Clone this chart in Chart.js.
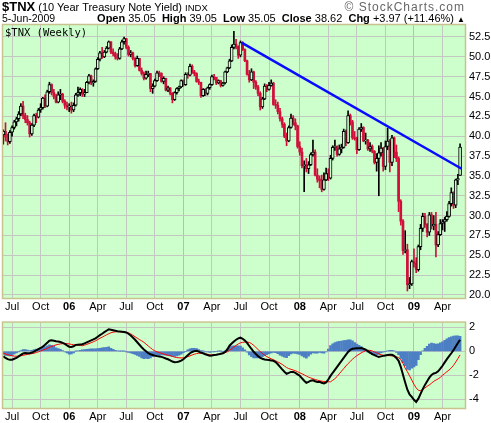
<!DOCTYPE html>
<html>
<head>
<meta charset="utf-8">
<script src="https://cdn.jsdelivr.net/npm/chart.js@4.4.0/dist/chart.umd.min.js"></script>
<style>
  body { margin: 0; background: #fff; width: 491px; height: 423px; overflow: hidden; position: relative;
         font-family: "Liberation Sans", Arial, sans-serif; }
  .hdr { position: absolute; white-space: nowrap; color: #000; z-index: 2; }
  #priceBox { position: absolute; left: 0; top: 0; width: 491px; height: 312px; }
  #macdBox { position: absolute; left: 0; top: 312px; width: 491px; height: 111px; }
</style>
</head>
<body>
<div class="hdr" style="left:2px;top:0;font-size:11px;line-height:13px"><b style="font-size:13px">$TNX</b> (10 Year Treasury Note Yield) <span style="font-size:9.5px">INDX</span></div>
<div class="hdr" style="right:26px;top:1px;font-size:12px;line-height:12px;color:#666;letter-spacing:1px">© StockCharts.com</div>
<div class="hdr" style="left:2px;top:13px;font-size:10.5px;line-height:11px">5-Jun-2009</div>
<div class="hdr" style="right:26px;top:13px;font-size:11px;line-height:11px"><b>Open</b> 35.05 &nbsp;<b>High</b> 39.05 &nbsp;<b>Low</b> 35.05 &nbsp;<b>Close</b> 38.62 &nbsp;<b>Chg</b> +3.97 (+11.46%) <span style="font-size:8px">▲</span></div>
<div class="hdr" style="left:5px;top:27px;font-family:'DejaVu Sans Mono',monospace;font-size:10.5px;line-height:11px">$TNX (Weekly)</div>

<div id="priceBox"><canvas id="priceChart" width="491" height="312"></canvas></div>
<div id="macdBox"><canvas id="macdChart" width="491" height="111"></canvas></div>

<script>
// weekly bars, Jun 10 2005 .. Jun 5 2009 (bar index 0..208), yield x10
const opens = [
  40.2,40.6,39.9,39.3,40.5,41.1,41.8,42.2,42.8,43.8,
  42.6,42.1,41.7,40.3,41.4,42.6,42.4,43.3,43.6,44.8,
  43.8,45.6,46.5,45.5,45.0,44.3,45.2,45.3,44.4,43.9,
  43.7,43.8,43.3,43.9,45.2,45.5,45.9,45.3,45.5,46.8,
  47.6,46.7,46.9,48.5,49.7,50.5,50.0,50.6,51.1,51.9,
  50.6,50.4,50.0,49.8,51.0,51.9,52.3,51.2,50.3,50.5,
  49.8,48.9,49.8,48.3,47.9,47.3,47.8,47.9,46.0,46.3,
  47.0,48.0,47.9,46.9,47.3,45.8,46.1,45.4,44.6,45.5,
  46.0,46.2,47.0,46.5,47.8,47.7,48.8,48.1,47.9,46.9,
  46.8,45.1,45.9,45.4,46.1,46.5,47.5,47.4,46.7,47.0,
  46.4,46.7,48.1,48.6,49.5,51.2,51.6,51.3,50.2,51.8,
  50.9,49.5,47.8,47.1,48.1,46.8,46.2,45.4,43.7,44.7,
  46.3,45.9,46.4,46.7,44.0,43.9,43.1,42.2,41.5,40.0,
  39.4,41.1,42.3,41.7,41.3,38.7,38.0,36.3,36.4,35.9,
  36.4,37.7,38.0,35.1,34.6,34.4,33.3,34.5,35.3,34.7,
  37.2,38.6,38.7,37.7,38.4,38.6,40.6,39.2,42.6,41.8,
  39.8,39.7,38.3,40.9,41.1,39.4,39.5,38.4,38.7,38.1,
  36.7,37.2,37.9,38.5,36.2,38.7,39.4,36.7,39.8,38.0,
  37.2,31.8,29.3,25.6,25.7,21.3,21.4,24.2,24.0,23.2,
  26.1,28.4,29.9,28.9,27.9,30.1,28.7,28.9,26.3,27.6,
  29.0,29.2,29.5,29.9,31.5,32.9,31.3,34.5,35.05
];
const highs = [
  40.8,41.7,40.3,40.7,41.3,42.0,42.4,43.1,44.1,44.4,
  42.9,42.6,41.9,41.6,42.8,42.9,43.5,44.1,44.9,45.2,
  45.8,46.8,46.6,45.9,45.3,45.6,45.9,45.4,44.6,44.3,
  44.1,44.3,44.2,45.4,46.2,46.1,46.0,45.9,46.9,47.8,
  47.7,47.1,48.6,49.9,50.7,51.2,50.8,51.3,52.0,51.9,
  51.0,50.6,50.4,51.2,52.1,52.5,52.3,51.4,50.8,50.6,
  49.9,50.1,49.8,48.6,48.1,48.2,48.2,47.9,46.6,47.2,
  48.2,48.2,48.0,47.5,47.3,46.3,46.1,45.5,45.6,46.1,
  46.3,47.1,47.1,48.0,48.0,49.1,49.0,48.3,48.0,47.2,
  46.8,46.0,46.0,46.2,46.6,47.7,47.8,47.4,47.1,47.0,
  46.8,48.2,48.7,49.7,51.5,53.2,52.2,51.4,52.0,51.9,
  51.0,49.6,48.3,48.5,48.2,47.0,46.4,45.6,44.9,46.6,
  46.5,46.8,47.1,46.8,44.6,44.3,43.5,42.4,41.7,40.4,
  41.3,42.8,42.6,42.2,41.4,39.3,38.5,36.9,37.2,36.8,
  37.9,39.5,38.3,35.9,35.0,35.1,35.4,36.0,35.9,37.6,
  38.8,39.5,38.8,38.9,39.0,40.9,40.8,43.2,42.8,42.0,
  40.6,39.9,41.1,41.6,41.2,40.4,39.6,39.2,38.9,38.2,
  37.8,38.8,39.2,38.6,39.4,41.0,39.6,40.1,39.9,38.9,
  37.4,32.0,29.5,28.1,26.4,22.2,24.4,25.8,24.7,26.3,
  28.9,30.3,30.3,29.0,30.4,30.4,30.0,30.4,28.0,29.5,
  29.5,29.8,30.5,31.8,33.5,33.0,34.6,35.2,39.05
];
const lows = [
  39.0,39.4,38.9,39.1,40.0,40.9,41.3,41.9,42.6,42.2,
  41.7,41.4,39.9,40.1,41.2,41.7,42.3,43.0,43.4,43.6,
  43.7,45.4,45.2,44.7,44.2,44.2,44.6,44.2,43.5,43.3,
  43.1,42.9,43.1,43.8,45.0,45.1,45.0,45.0,45.5,46.6,
  46.5,46.3,46.8,48.4,49.5,49.8,49.9,50.5,51.0,50.4,
  50.1,49.7,49.6,49.7,50.9,51.6,51.0,50.1,50.0,49.6,
  48.7,48.8,48.2,47.7,47.1,47.2,47.5,45.6,45.4,46.2,
  46.9,47.5,46.8,46.6,45.7,45.6,45.2,44.2,44.5,45.3,
  45.7,46.1,46.3,46.4,47.3,47.6,47.9,47.6,46.8,46.5,
  44.9,45.0,45.1,45.2,45.9,46.4,47.1,46.5,46.6,46.2,
  46.3,46.6,48.0,48.5,49.4,51.0,51.0,49.8,50.0,50.8,
  49.4,47.7,46.8,47.0,46.0,45.9,45.1,43.3,43.5,44.6,
  45.6,45.8,46.3,43.9,43.5,42.8,41.9,41.1,39.8,38.8,
  39.3,41.0,41.4,40.8,38.5,37.6,36.0,33.0,35.5,35.3,
  36.3,37.5,35.0,34.2,33.5,33.0,33.2,34.4,34.4,34.6,
  37.0,38.2,37.5,37.6,37.9,38.5,38.8,39.1,41.4,39.6,
  39.5,37.8,38.2,40.6,39.3,39.0,38.2,38.1,37.9,36.5,
  35.6,32.5,37.5,35.6,35.8,38.3,35.5,36.3,37.3,36.8,
  30.5,28.8,25.1,25.3,20.5,20.8,21.2,23.5,22.8,23.0,
  25.7,28.0,28.5,27.3,27.5,28.3,28.2,24.8,26.1,27.5,
  28.2,28.0,29.3,29.8,31.2,30.9,31.0,33.9,35.05
];
const closes = [
  40.6,39.9,39.3,40.5,41.1,41.8,42.2,42.8,43.8,42.6,
  42.1,41.7,40.3,41.4,42.6,42.4,43.3,43.6,44.8,43.8,
  45.6,46.5,45.5,45.0,44.3,45.2,45.3,44.4,43.9,43.7,
  43.8,43.3,43.9,45.2,45.5,45.9,45.3,45.5,46.8,47.6,
  46.7,46.9,48.5,49.7,50.5,50.0,50.6,51.1,51.9,50.6,
  50.4,50.0,49.8,51.0,51.9,52.3,51.2,50.3,50.5,49.8,
  48.9,49.8,48.3,47.9,47.3,47.8,47.9,46.0,46.3,47.0,
  48.0,47.9,46.9,47.3,45.8,46.1,45.4,44.6,45.5,46.0,
  46.2,47.0,46.5,47.8,47.7,48.8,48.1,47.9,46.9,46.8,
  45.1,45.9,45.4,46.1,46.5,47.5,47.4,46.7,47.0,46.4,
  46.7,48.1,48.6,49.5,51.2,51.6,51.3,50.2,51.8,50.9,
  49.5,47.8,47.1,48.1,46.8,46.2,45.4,43.7,44.7,46.3,
  45.9,46.4,46.7,44.0,43.9,43.1,42.2,41.5,40.0,39.4,
  41.1,42.3,41.7,41.3,38.7,38.0,36.3,36.4,35.9,36.4,
  37.7,38.0,35.1,34.6,34.4,33.3,34.5,35.3,34.7,37.2,
  38.6,38.7,37.7,38.4,38.6,40.6,39.2,42.6,41.8,39.8,
  39.7,38.3,40.9,41.1,39.4,39.5,38.4,38.7,38.1,36.7,
  37.2,37.9,38.5,36.2,38.7,39.4,36.7,39.8,38.0,37.2,
  31.8,29.3,25.6,25.7,21.3,21.4,24.2,24.0,23.2,26.1,
  28.4,29.9,28.9,27.9,30.1,28.7,28.9,26.3,27.6,29.0,
  29.2,29.5,29.9,31.5,32.9,31.3,34.5,34.65,38.62
];

// MACD(12,26,9) panel
const macdLine = [
  -0.41,-0.55,-0.65,-0.71,-0.70,-0.62,-0.54,-0.42,-0.30,-0.18,
  -0.14,-0.15,-0.16,-0.10,-0.02,0.09,0.18,0.28,0.39,0.55,
  0.72,0.89,0.92,0.89,0.84,0.82,0.78,0.71,0.62,0.50,
  0.39,0.36,0.42,0.54,0.56,0.58,0.59,0.66,0.75,0.84,
  0.92,1.00,1.09,1.22,1.35,1.47,1.60,1.72,1.84,1.80,
  1.76,1.72,1.68,1.66,1.64,1.62,1.58,1.47,1.32,1.15,
  0.97,0.76,0.55,0.34,0.15,0.00,-0.16,-0.24,-0.30,-0.36,
  -0.40,-0.43,-0.46,-0.52,-0.60,-0.66,-0.75,-0.85,-0.91,-0.90,
  -0.85,-0.78,-0.66,-0.50,-0.32,-0.16,-0.05,0.02,0.04,-0.02,
  -0.10,-0.16,-0.24,-0.30,-0.36,-0.34,-0.31,-0.29,-0.25,-0.20,
  -0.16,-0.05,0.15,0.47,0.65,0.82,0.97,1.08,1.14,1.05,
  0.90,0.71,0.45,0.20,-0.04,-0.22,-0.40,-0.54,-0.62,-0.68,
  -0.71,-0.73,-0.76,-0.79,-0.90,-1.08,-1.29,-1.50,-1.70,-1.87,
  -1.80,-1.72,-1.72,-1.80,-1.92,-2.04,-2.25,-2.45,-2.62,-2.55,
  -2.45,-2.42,-2.50,-2.55,-2.54,-2.62,-2.68,-2.59,-2.35,-2.05,
  -1.79,-1.55,-1.30,-1.04,-0.80,-0.55,-0.29,-0.05,0.12,0.21,
  0.24,0.25,0.26,0.27,0.22,0.14,0.02,-0.10,-0.24,-0.32,
  -0.40,-0.46,-0.42,-0.38,-0.34,-0.30,-0.28,-0.29,-0.38,-0.55,
  -0.79,-1.30,-1.95,-2.60,-3.20,-3.60,-3.80,-4.05,-4.22,-3.95,
  -3.55,-3.15,-2.80,-2.50,-2.20,-1.97,-1.85,-1.80,-1.67,-1.45,
  -1.20,-0.92,-0.65,-0.40,-0.16,0.10,0.40,0.70,0.97
];
const signalLine = [
  -0.16,-0.22,-0.28,-0.33,-0.37,-0.40,-0.41,-0.40,-0.37,-0.33,
  -0.29,-0.25,-0.22,-0.19,-0.16,-0.10,-0.04,0.03,0.10,0.17,
  0.25,0.34,0.41,0.48,0.54,0.58,0.62,0.64,0.65,0.64,
  0.62,0.58,0.55,0.53,0.52,0.50,0.47,0.52,0.58,0.65,
  0.72,0.80,0.88,0.98,1.09,1.18,1.28,1.38,1.47,1.55,
  1.60,1.63,1.64,1.64,1.63,1.61,1.59,1.55,1.46,1.34,
  1.22,1.10,0.98,0.88,0.76,0.60,0.45,0.30,0.15,0.04,
  -0.04,-0.10,-0.16,-0.22,-0.28,-0.33,-0.36,-0.42,-0.48,-0.52,
  -0.54,-0.55,-0.54,-0.50,-0.44,-0.38,-0.30,-0.24,-0.19,-0.16,
  -0.16,-0.18,-0.21,-0.25,-0.28,-0.29,-0.30,-0.29,-0.26,-0.22,
  -0.16,-0.10,-0.04,0.08,0.22,0.36,0.50,0.62,0.71,0.75,
  0.78,0.78,0.74,0.65,0.50,0.33,0.15,-0.02,-0.18,-0.32,
  -0.44,-0.54,-0.62,-0.70,-0.79,-0.88,-0.98,-1.09,-1.22,-1.35,
  -1.44,-1.50,-1.56,-1.62,-1.70,-1.79,-1.87,-1.96,-2.06,-2.15,
  -2.22,-2.29,-2.35,-2.40,-2.45,-2.49,-2.52,-2.54,-2.54,-2.54,
  -2.42,-2.28,-2.10,-1.87,-1.66,-1.44,-1.22,-1.02,-0.84,-0.66,
  -0.50,-0.36,-0.24,-0.12,-0.03,0.05,0.09,0.08,0.03,-0.04,
  -0.12,-0.20,-0.29,-0.32,-0.34,-0.35,-0.36,-0.38,-0.41,-0.45,
  -0.52,-0.70,-1.00,-1.40,-1.70,-2.05,-2.40,-2.75,-3.05,-3.25,
  -3.28,-3.20,-3.05,-2.92,-2.80,-2.66,-2.50,-2.40,-2.30,-2.17,
  -2.00,-1.85,-1.70,-1.55,-1.38,-1.17,-0.90,-0.60,-0.29
];

// x axis: bar index of the first week of each labelled month
const monthBars = [4, 17, 30, 43, 56, 69, 82, 95, 108, 121, 135, 148, 161, 174, 187, 200];
const monthLabels = ["Jul", "Oct", "06", "Apr", "Jul", "Oct", "07", "Apr", "Jul", "Oct", "08", "Apr", "Jul", "Oct", "09", "Apr"];
const yearBars = [30, 82, 135, 187];
const priceTicks = [20.0, 22.5, 25.0, 27.5, 30.0, 32.5, 35.0, 37.5, 40.0, 42.5, 45.0, 47.5, 50.0, 52.5];
const macdTicks = [-4, -2, 0, 2];

// downtrend line drawn from the Jul 2007 high
const trendBars = [108.5, 208.7];
const trendValues = [51.8, 35.9];

const FONT = '"Liberation Sans", Arial, sans-serif';
const RED = "#d0103a";
const PANEL_BG = "#ccffcc";
const GRID = "#c2c8bf";
const YEAR_GRID = "#cbbd8c";
const BORDER = "#c8c38e";

Chart.defaults.animation = false;
Chart.defaults.font.family = FONT;

const panelFrame = {
  id: "panelFrame",
  beforeDraw(chart) {
    const { ctx, chartArea: { left, top, right, bottom } } = chart;
    ctx.save();
    ctx.fillStyle = PANEL_BG;
    ctx.fillRect(left, top, right - left, bottom - top);
    ctx.restore();
  },
  afterDraw(chart) {
    const { ctx, chartArea: { left, top, right, bottom } } = chart;
    ctx.save();
    ctx.strokeStyle = BORDER;
    ctx.lineWidth = 1.5;
    ctx.strokeRect(left - 0.5, top - 0.5, right - left + 1, bottom - top + 1);
    ctx.restore();
  },
};

function timeAxis(axisHeight) {
  return {
    type: "linear",
    min: -0.14,
    max: 210.24,
    offset: false,
    afterBuildTicks: (scale) => {
      scale.ticks = monthBars.map((v) => ({ value: v }));
    },
    afterFit: (scale) => {
      scale.height = axisHeight;
    },
    border: { display: false },
    grid: {
      offset: false,
      drawTicks: false,
      color: (c) => (c.tick && yearBars.includes(c.tick.value) ? YEAR_GRID : GRID),
    },
    ticks: {
      autoSkip: false,
      maxRotation: 0,
      minRotation: 0,
      padding: 2,
      color: "#000",
      font: (c) => ({
        family: FONT,
        size: 11,
        weight: c.tick && yearBars.includes(c.tick.value) ? "bold" : "normal",
      }),
      callback: (v) => monthLabels[monthBars.indexOf(v)],
    },
  };
}

function valueAxis(min, max, tickList, fmt) {
  return {
    type: "linear",
    position: "right",
    min: min,
    max: max,
    afterBuildTicks: (scale) => {
      scale.ticks = tickList.map((v) => ({ value: v }));
    },
    afterFit: (scale) => {
      scale.width = 26;
    },
    border: { display: false },
    grid: { drawTicks: false, color: GRID },
    ticks: { padding: 4, color: "#000", font: { family: FONT, size: 11 }, callback: fmt },
  };
}

// candle pieces
const barColor = closes.map((c, i) => (i === 0 || c >= closes[i - 1] ? "#000000" : RED));
const wicks = closes.map((c, i) => ({ x: i, y: [lows[i], highs[i]] }));
const upIdx = [];
const downIdx = [];
closes.forEach((c, i) => (c >= opens[i] ? upIdx : downIdx).push(i));

const priceChart = new Chart(document.getElementById("priceChart"), {
  type: "bar",
  data: {
    datasets: [
      {
        type: "line",
        data: trendBars.map((b, i) => ({ x: b, y: trendValues[i] })),
        borderColor: "#0a0aff",
        borderWidth: 2.5,
        pointRadius: 0,
        order: 1,
      },
      {
        data: upIdx.map((i) => ({ x: i, y: [opens[i], closes[i]] })),
        backgroundColor: PANEL_BG,
        borderColor: upIdx.map((i) => barColor[i]),
        borderWidth: 1,
        borderSkipped: false,
        barThickness: 3,
        grouped: false,
        order: 2,
      },
      {
        data: downIdx.map((i) => ({ x: i, y: [closes[i], opens[i]] })),
        backgroundColor: downIdx.map((i) => barColor[i]),
        borderWidth: 0,
        barThickness: 2,
        grouped: false,
        order: 2,
      },
      {
        data: wicks,
        backgroundColor: barColor,
        borderWidth: 0,
        barThickness: 1,
        grouped: false,
        order: 3,
      },
    ],
  },
  options: {
    responsive: false,
    devicePixelRatio: 1,
    layout: { padding: { left: 3, top: 25, right: 0, bottom: 0 } },
    plugins: { legend: { display: false }, tooltip: { enabled: false } },
    scales: {
      x: timeAxis(14),
      y: valueAxis(19.62, 54.01, priceTicks, (v) => v.toFixed(1)),
    },
  },
  plugins: [panelFrame],
});

const macdChart = new Chart(document.getElementById("macdChart"), {
  type: "bar",
  data: {
    datasets: [
      {
        type: "line",
        data: macdLine.map((v, i) => ({ x: i, y: v })),
        borderColor: "#000000",
        borderWidth: 2,
        pointRadius: 0,
        order: 1,
      },
      {
        type: "line",
        data: signalLine.map((v, i) => ({ x: i, y: v })),
        borderColor: "#ff0000",
        borderWidth: 1,
        pointRadius: 0,
        order: 2,
      },
      {
        data: macdLine.map((v, i) => ({ x: i, y: [0, v - signalLine[i]] })),
        backgroundColor: "#4d7fc4",
        borderWidth: 0,
        barThickness: 2,
        grouped: false,
        order: 3,
      },
    ],
  },
  options: {
    responsive: false,
    devicePixelRatio: 1,
    layout: { padding: { left: 3, top: 1, right: 0, bottom: 0 } },
    plugins: { legend: { display: false }, tooltip: { enabled: false } },
    scales: {
      x: timeAxis(15),
      y: valueAxis(-4.73, 2.4, macdTicks, (v) => String(v)),
    },
  },
  plugins: [panelFrame],
});
</script>
</body>
</html>
